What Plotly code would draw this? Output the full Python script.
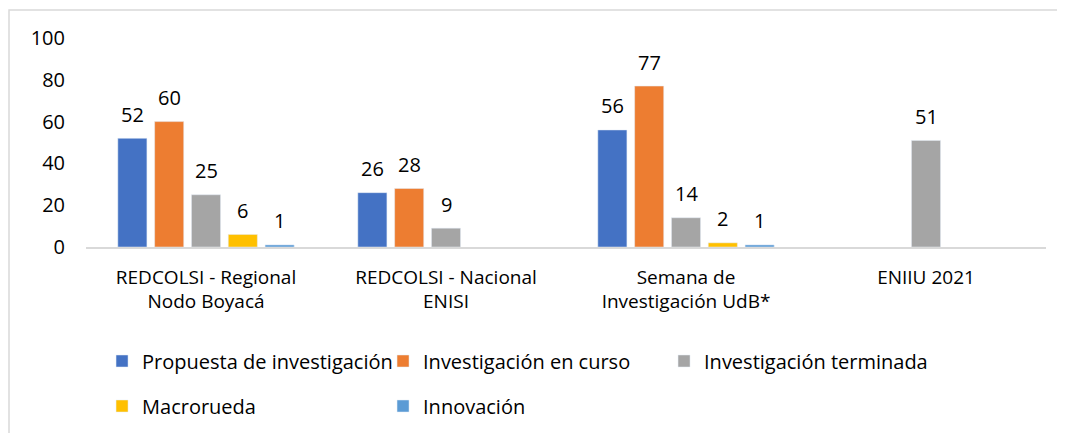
import plotly.graph_objects as go

categories = ["REDCOLSI - Regional<br>Nodo Boyacá", "REDCOLSI - Nacional<br>ENISI",
              "Semana de<br>Investigación UdB*", "ENIIU 2021"]
series_names = ["Propuesta de investigación", "Investigación en curso",
                "Investigación terminada", "Macrorueda", "Innovación"]
propuesta = [52, 26, 56, None]
en_curso = [60, 28, 77, None]
terminada = [25, 9, 14, 51]
macrorueda = [6, None, 2, None]
innovacion = [1, None, 1, None]
y_ticks = [0, 20, 40, 60, 80, 100]

values = [propuesta, en_curso, terminada, macrorueda, innovacion]
colors = ["#4472C4", "#ED7D31", "#A5A5A5", "#FFC000", "#5B9BD5"]
legends = ["legend", "legend", "legend", "legend2", "legend2"]

FONT = "Open Sans, Lato, sans-serif"

# page has an 8px body margin, so the figure is sized to fill the rest
W, H = 1057, 425
ML, MR, MT, MB = 78, 19, 30, 186
BARGAP = 0.233
plot_w = W - ML - MR
slot = plot_w / len(categories) * (1 - BARGAP) / len(series_names)

fig = go.Figure()
annotations = []
for i, (name, vals, col, lg) in enumerate(zip(series_names, values, colors, legends)):
    fig.add_trace(go.Bar(
        name=name, x=categories, y=vals, marker_color=col, legend=lg,
    ))
    for cat, v in zip(categories, vals):
        if v is None:
            continue
        annotations.append(dict(
            x=cat, y=v, xref="x", yref="y", text=str(v), showarrow=False,
            xshift=(i - (len(series_names) - 1) / 2) * slot, yshift=24,
            yanchor="middle", font=dict(size=20, family=FONT, color="#000000"),
        ))

leg_common = dict(orientation="h", xref="paper", yref="container",
                  xanchor="left", yanchor="middle",
                  entrywidth=236, entrywidthmode="pixels", itemwidth=30,
                  font=dict(family=FONT, size=20, color="#000000"),
                  bgcolor="rgba(0,0,0,0)", traceorder="normal")

fig.update_layout(
    width=W, height=H,
    margin=dict(l=ML, r=MR, t=MT, b=MB),
    paper_bgcolor="white", plot_bgcolor="white",
    barmode="group", bargap=BARGAP, bargroupgap=0.21,
    font=dict(family=FONT, size=20, color="#000000"),
    legend=dict(x=0.0167, y=1 - 353 / H, **leg_common),
    legend2=dict(x=0.0167, y=1 - 398 / H, **leg_common),
    showlegend=True,
    annotations=annotations,
    shapes=[dict(type="rect", xref="paper", yref="paper",
                 x0=-0.0802, x1=1.2, y0=1.134, y1=-1.5,
                 line=dict(color="#D9D9D9", width=1.5), fillcolor="rgba(0,0,0,0)", layer="below")],
)
fig.update_yaxes(range=[0, 100], tickvals=y_ticks, showgrid=False, zeroline=False,
                 showline=False, ticks="", ticklabelstandoff=20,
                 tickfont=dict(size=20, family=FONT))
fig.update_xaxes(showline=True, linecolor="#D9D9D9", linewidth=1.5, ticks="",
                 showgrid=False, tickfont=dict(size=19, family=FONT), ticklabelstandoff=12)

fig.write_html("out.html")
